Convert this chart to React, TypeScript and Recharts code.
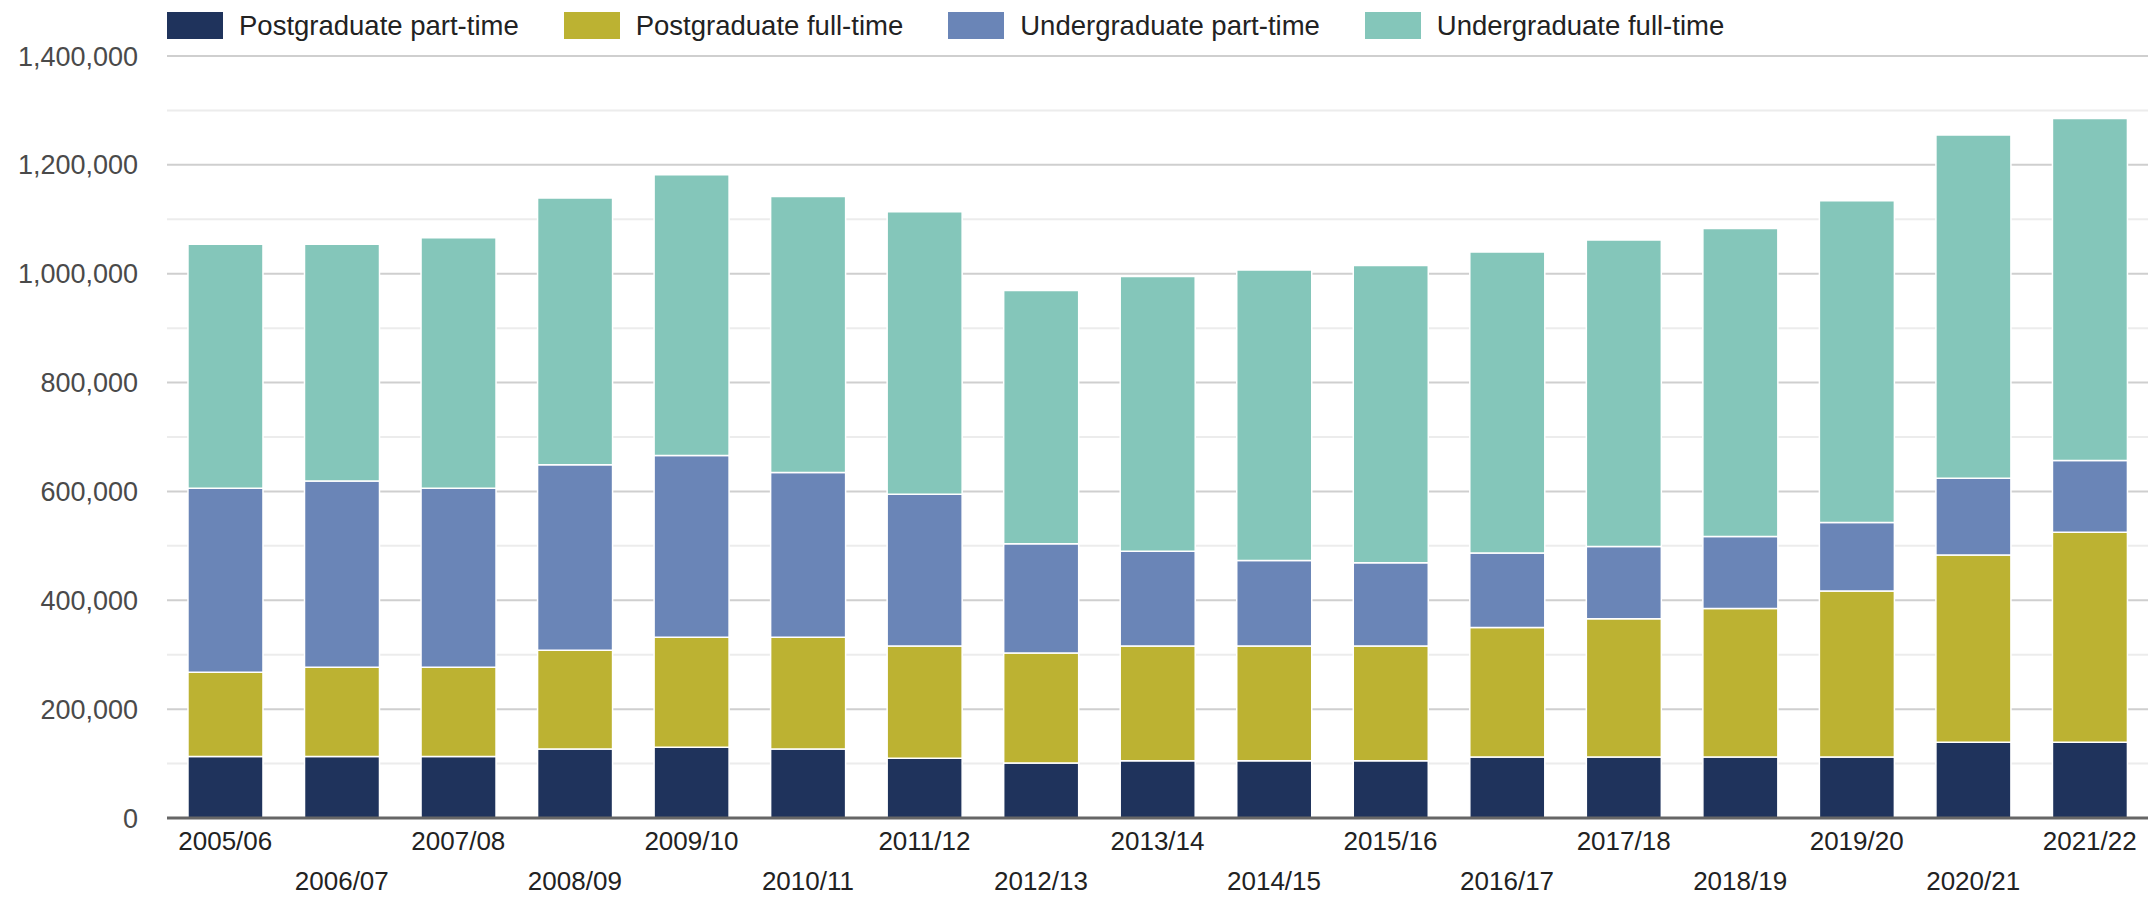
import React from 'react';
import { BarChart, Bar, XAxis, YAxis, CartesianGrid, Legend } from 'recharts';

const years = [
  '2005/06', '2006/07', '2007/08', '2008/09', '2009/10', '2010/11', '2011/12', '2012/13', '2013/14',
  '2014/15', '2015/16', '2016/17', '2017/18', '2018/19', '2019/20', '2020/21', '2021/22',
];
const pgPartTime = [113000, 113000, 113000, 127000, 130000, 127000, 110000, 101000, 105000, 105000, 105000, 112000, 112000, 112000, 112000, 139000, 139000];
const pgFullTime = [155000, 164000, 164000, 181000, 202000, 205000, 206000, 202000, 211000, 211000, 211000, 238000, 254000, 273000, 305000, 344000, 386000];
const ugPartTime = [338000, 342000, 329000, 341000, 334000, 303000, 279000, 201000, 174000, 157000, 153000, 137000, 133000, 132000, 126000, 141000, 132000];
const ugFullTime = [448000, 435000, 460000, 490000, 516000, 507000, 519000, 465000, 505000, 534000, 546000, 553000, 563000, 566000, 591000, 631000, 628000];

const yTicks = [0, 100000, 200000, 300000, 400000, 500000, 600000, 700000, 800000, 900000, 1000000, 1100000, 1200000, 1300000, 1400000];
const majorTicks = [200000, 400000, 600000, 800000, 1000000, 1200000, 1400000];
const minorTicks = [100000, 300000, 500000, 700000, 900000, 1100000, 1300000];

const series = [
  { key: 'pgPartTime', name: 'Postgraduate part-time', color: '#1f335c' },
  { key: 'pgFullTime', name: 'Postgraduate full-time', color: '#bcb232' },
  { key: 'ugPartTime', name: 'Undergraduate part-time', color: '#6a85b7' },
  { key: 'ugFullTime', name: 'Undergraduate full-time', color: '#84c6ba' },
];

const data = years.map((year, i) => ({
  year,
  pgPartTime: pgPartTime[i],
  pgFullTime: pgFullTime[i],
  ugPartTime: ugPartTime[i],
  ugFullTime: ugFullTime[i],
}));

const FONT = '"Liberation Sans", Arial, sans-serif';

const YearTick = (props: any) => {
  const { x, y, payload, index } = props;
  const dy = index % 2 === 0 ? 32 : 72;
  return (
    <text x={x} y={y + dy} textAnchor="middle" fontSize={26} fontFamily={FONT} fill="#222">
      {payload.value}
    </text>
  );
};

const LegendBox = () => (
  <div style={{ display: 'flex', alignItems: 'flex-start', boxSizing: 'border-box', height: 56, paddingTop: 11, paddingLeft: 167, fontFamily: FONT }}>
    {series.map((s) => (
      <div key={s.key} style={{ display: 'flex', alignItems: 'center', height: 29, marginRight: 45 }}>
        <span style={{ display: 'inline-block', width: 56, height: 27, background: s.color, marginRight: 16 }} />
        <span style={{ fontSize: 27.5, color: '#222' }}>{s.name}</span>
      </div>
    ))}
  </div>
);

const App = () => (
  <div style={{ position: 'absolute', left: 0, top: 0, width: 2150, height: 897, background: '#fff' }}>
    <BarChart
      width={2150}
      height={897}
      data={data}
      margin={{ top: 0, right: 2, bottom: 0, left: 0 }}
      barCategoryGap="18%"
    >
      <Legend verticalAlign="top" align="left" content={() => <LegendBox />} />
      <CartesianGrid vertical={false} horizontalValues={minorTicks} stroke="#ececec" strokeWidth={2} />
      <CartesianGrid vertical={false} horizontalValues={majorTicks} stroke="#cfcfcf" strokeWidth={2} />
      <XAxis
        dataKey="year"
        interval={0}
        height={79}
        tickLine={false}
        tickSize={0}
        tickMargin={0}
        axisLine={{ stroke: '#666', strokeWidth: 3 }}
        tick={<YearTick />}
      />
      <YAxis
        width={167}
        domain={[0, 1400000]}
        ticks={yTicks}
        interval={0}
        axisLine={false}
        tickLine={false}
        tickSize={0}
        tickMargin={29}
        tick={{ fontSize: 27, fontFamily: FONT, fill: '#4a4a4a' }}
        tickFormatter={(v: number) => (v % 200000 === 0 ? v.toLocaleString('en-US') : '')}
      />
      {series.map((s) => (
        <Bar
          key={s.key}
          dataKey={s.key}
          name={s.name}
          stackId="students"
          fill={s.color}
          stroke="#fff"
          strokeWidth={1.5}
          isAnimationActive={false}
        />
      ))}
    </BarChart>
  </div>
);

export default App;
